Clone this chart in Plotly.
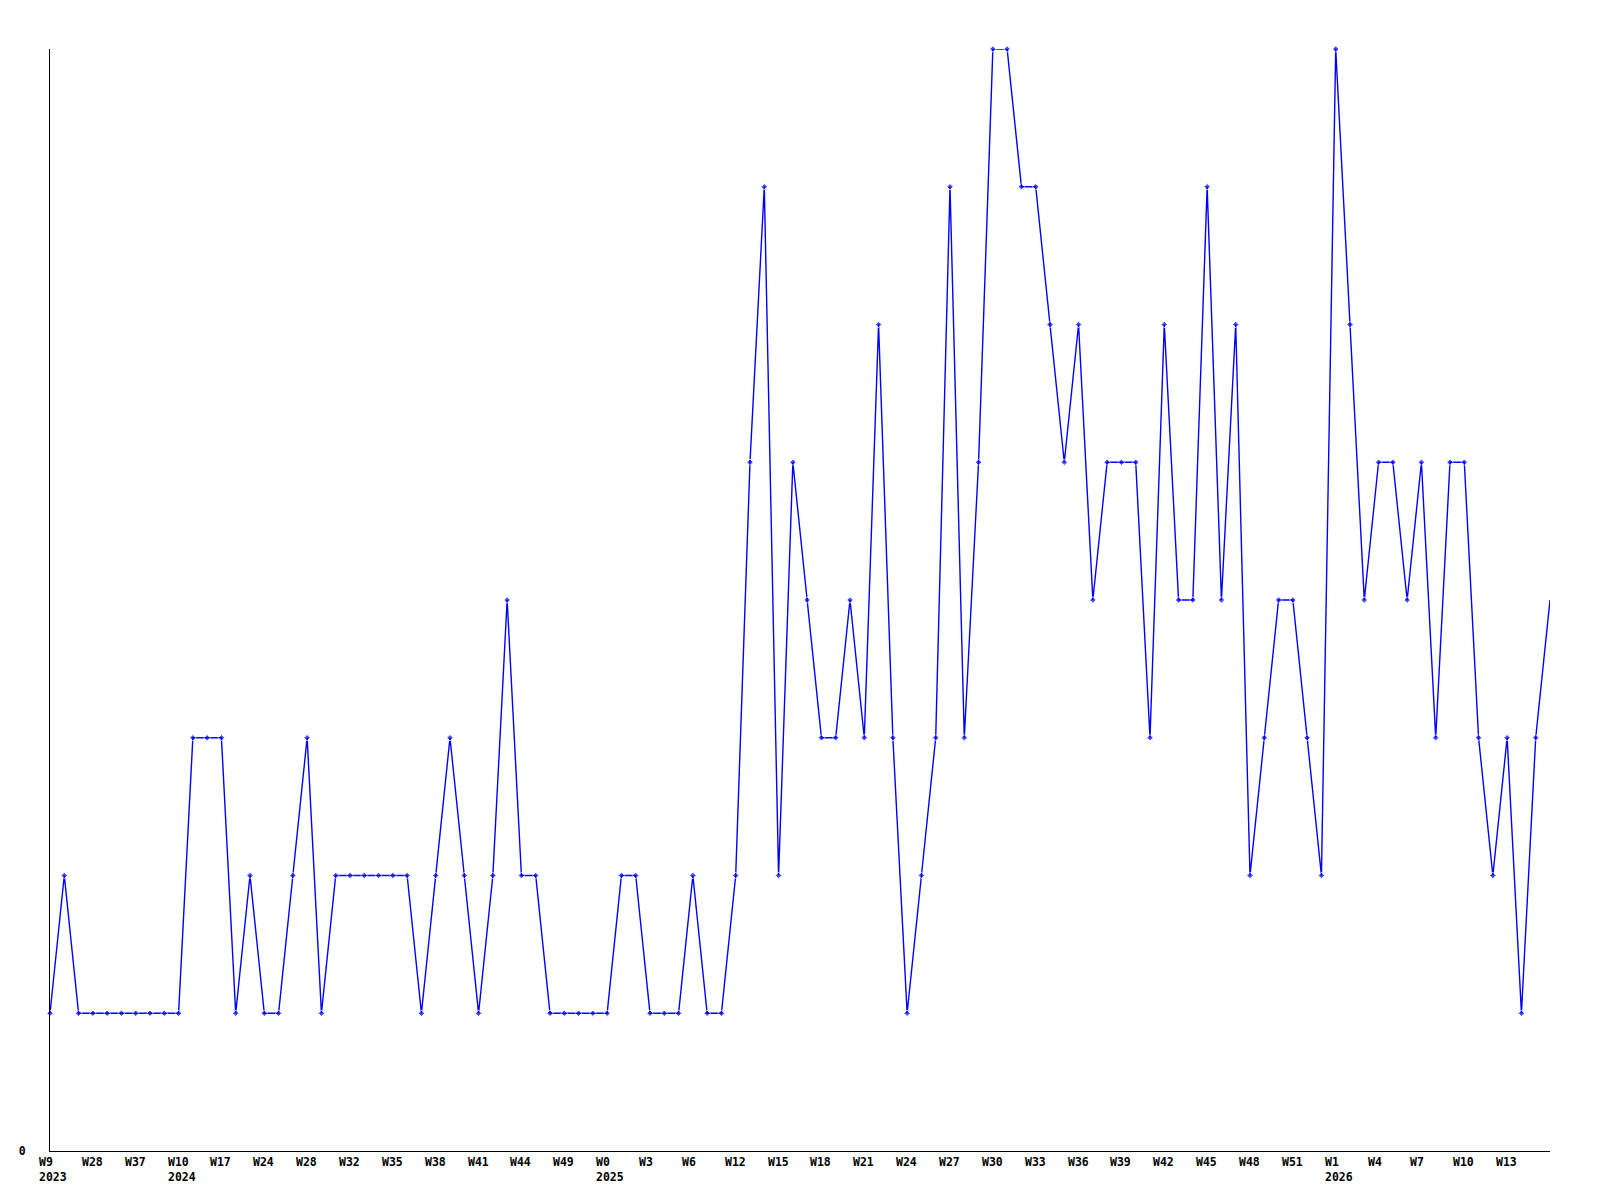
import plotly.graph_objects as go

values = [1, 2, 1, 1, 1, 1, 1, 1, 1, 1,
          3, 3, 3, 1, 2, 1, 1, 2, 3, 1,
          2, 2, 2, 2, 2, 2, 1, 2, 3, 2,
          1, 2, 4, 2, 2, 1, 1, 1, 1, 1,
          2, 2, 1, 1, 1, 2, 1, 1, 2, 5,
          7, 2, 5, 4, 3, 3, 4, 3, 6, 3,
          1, 2, 3, 7, 3, 5, 8, 8, 7, 7,
          6, 5, 6, 4, 5, 5, 5, 3, 6, 4,
          4, 7, 4, 6, 2, 3, 4, 4, 3, 2,
          8, 6, 4, 5, 5, 4, 5, 3, 5, 5,
          3, 2, 3, 1, 3, 4]

tick_positions = [0, 3, 6, 9, 12, 15, 18, 21, 24, 27, 30, 33, 36, 39, 42, 45,
                  48, 51, 54, 57, 60, 63, 66, 69, 72, 75, 78, 81, 84, 87, 90,
                  93, 96, 99, 102]
tick_labels = ["W9", "W28", "W37", "W10", "W17", "W24", "W28", "W32", "W35",
               "W38", "W41", "W44", "W49", "W0", "W3", "W6", "W12", "W15",
               "W18", "W21", "W24", "W27", "W30", "W33", "W36", "W39", "W42",
               "W45", "W48", "W51", "W1", "W4", "W7", "W10", "W13"]
year_positions = [0, 9, 39, 90]
year_labels = ["2023", "2024", "2025", "2026"]

x = list(range(len(values)))
marker_sizes = [5] * (len(values) - 1) + [0]

fig = go.Figure()
fig.add_trace(go.Scatter(
    x=x, y=values, mode="lines+markers",
    line=dict(color="#0000FF", width=1.4),
    marker=dict(symbol="diamond", size=marker_sizes, color="#0000FF"),
    cliponaxis=False, hoverinfo="skip", showlegend=False,
))

font = dict(family="DejaVu Sans Mono", size=11.5, color="black", weight="bold")
for pos, lab in zip(tick_positions, tick_labels):
    fig.add_annotation(x=pos, y=0, xref="x", yref="y", text=lab,
                       showarrow=False, xanchor="left", yanchor="middle",
                       xshift=-12, yshift=-11, font=font, borderpad=0)
for pos, lab in zip(year_positions, year_labels):
    fig.add_annotation(x=pos, y=0, xref="x", yref="y", text=lab,
                       showarrow=False, xanchor="left", yanchor="middle",
                       xshift=-12, yshift=-26, font=font, borderpad=0)

fig.update_layout(
    width=1600, height=1200,
    margin=dict(l=42, r=58, t=41, b=57),
    paper_bgcolor="white", plot_bgcolor="white",
    xaxis=dict(range=[0, len(values) - 1], showgrid=False, zeroline=False,
               showline=True, linecolor="black", linewidth=1,
               showticklabels=False, ticks=""),
    yaxis=dict(range=[0, 8], showgrid=False, zeroline=False,
               showline=True, linecolor="black", linewidth=1,
               tickvals=[0], ticktext=["0"], ticks="",
               ticklabelstandoff=21, tickfont=font),
)

fig.write_html("out.html")
